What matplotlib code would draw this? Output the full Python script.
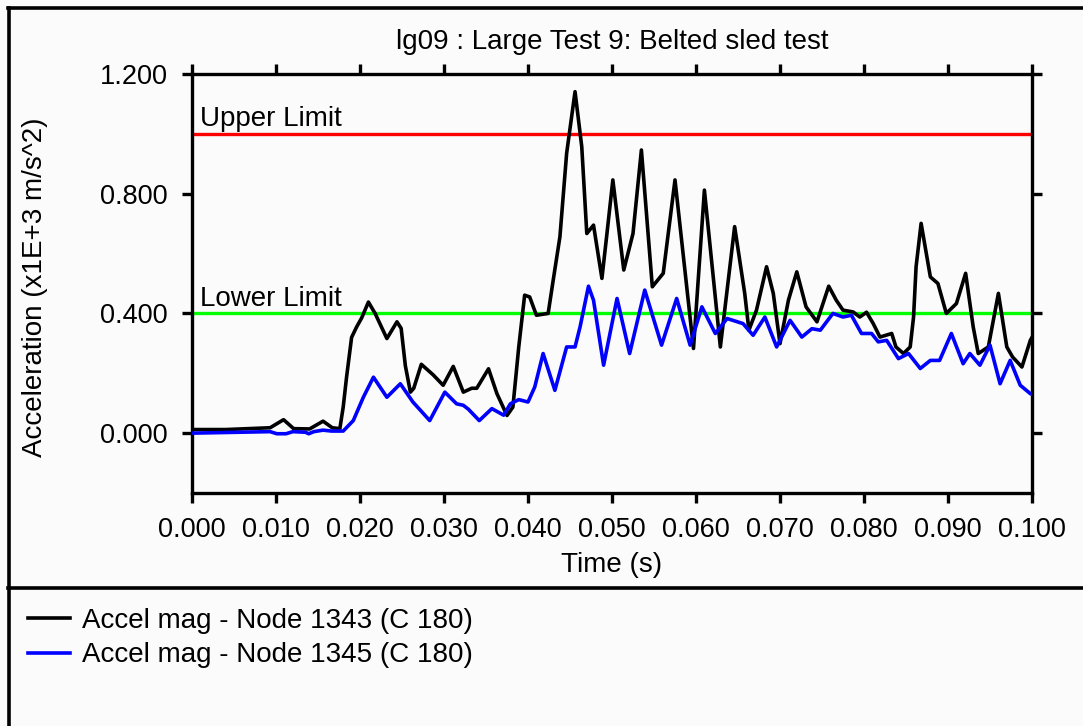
import matplotlib
matplotlib.use("Agg")
import matplotlib.pyplot as plt
from matplotlib.lines import Line2D
from matplotlib.ticker import FormatStrFormatter, MultipleLocator

plt.rcParams['font.family'] = ['Liberation Sans', 'DejaVu Sans']

# Acceleration magnitude, node 1343 (time in s, accel in 1E+3 m/s^2)
t_1343 = [0.0000, 0.0040, 0.0093, 0.0109, 0.0121, 0.0140, 0.0156, 0.0167, 0.0176,
          0.0180, 0.0184, 0.0190, 0.0196, 0.0202, 0.0210, 0.0218, 0.0232, 0.0244,
          0.0249, 0.0254, 0.0260, 0.0264, 0.0273, 0.0287, 0.0299, 0.0311, 0.0323,
          0.0333, 0.0339, 0.0353, 0.0363, 0.0375, 0.0382, 0.0389, 0.0396, 0.0402,
          0.0410, 0.0424, 0.0430, 0.0438, 0.0446, 0.0456, 0.0464, 0.0470, 0.0478,
          0.0488, 0.0494, 0.0501, 0.0514, 0.0525, 0.0535, 0.0548, 0.0561, 0.0575,
          0.0597, 0.0610, 0.0629, 0.0646, 0.0658, 0.0663, 0.0672, 0.0684, 0.0692,
          0.0700, 0.0710, 0.0720, 0.0731, 0.0744, 0.0758, 0.0767, 0.0775, 0.0787,
          0.0795, 0.0803, 0.0811, 0.0819, 0.0833, 0.0838, 0.0847, 0.0855, 0.0859,
          0.0862, 0.0868, 0.0879, 0.0888, 0.0898, 0.0910, 0.0921, 0.0930, 0.0936,
          0.0948, 0.0960, 0.0970, 0.0977, 0.0988, 0.0998, 0.1000]
a_1343 = [0.012, 0.012, 0.018, 0.045, 0.015, 0.014, 0.040, 0.018, 0.015,
          0.087, 0.187, 0.320, 0.355, 0.385, 0.438, 0.400, 0.316, 0.372,
          0.350, 0.225, 0.137, 0.150, 0.230, 0.195, 0.160, 0.223, 0.137,
          0.150, 0.150, 0.215, 0.132, 0.059, 0.087, 0.288, 0.461, 0.455,
          0.394, 0.400, 0.511, 0.656, 0.935, 1.141, 0.957, 0.667, 0.695,
          0.517, 0.667, 0.846, 0.545, 0.667, 0.946, 0.489, 0.534, 0.846,
          0.283, 0.812, 0.288, 0.690, 0.467, 0.344, 0.411, 0.556, 0.467,
          0.299, 0.444, 0.539, 0.422, 0.372, 0.491, 0.444, 0.411, 0.405,
          0.388, 0.404, 0.366, 0.321, 0.333, 0.288, 0.266, 0.288, 0.388,
          0.556, 0.701, 0.522, 0.500, 0.400, 0.433, 0.534, 0.355, 0.266,
          0.288, 0.467, 0.288, 0.254, 0.221, 0.310, 0.320]

# Acceleration magnitude, node 1345
t_1345 = [0.0000, 0.0093, 0.0101, 0.0112, 0.0120, 0.0135, 0.0139, 0.0145, 0.0156,
          0.0166, 0.0180, 0.0192, 0.0204, 0.0216, 0.0232, 0.0248, 0.0263, 0.0283,
          0.0301, 0.0315, 0.0323, 0.0329, 0.0342, 0.0357, 0.0371, 0.0379, 0.0389,
          0.0400, 0.0408, 0.0418, 0.0432, 0.0446, 0.0456, 0.0462, 0.0472, 0.0478,
          0.0490, 0.0506, 0.0521, 0.0539, 0.0559, 0.0577, 0.0593, 0.0607, 0.0623,
          0.0637, 0.0656, 0.0668, 0.0682, 0.0696, 0.0712, 0.0726, 0.0738, 0.0748,
          0.0763, 0.0775, 0.0785, 0.0797, 0.0809, 0.0817, 0.0827, 0.0841, 0.0853,
          0.0867, 0.0879, 0.0890, 0.0904, 0.0918, 0.0926, 0.0938, 0.0950, 0.0962,
          0.0974, 0.0986, 0.0998, 0.1000]
a_1345 = [0.000, 0.005, -0.002, -0.002, 0.005, 0.003, -0.002, 0.005, 0.010,
          0.007, 0.007, 0.042, 0.120, 0.187, 0.120, 0.165, 0.104, 0.042,
          0.137, 0.098, 0.093, 0.080, 0.042, 0.082, 0.060, 0.098, 0.112,
          0.104, 0.154, 0.266, 0.143, 0.288, 0.288, 0.355, 0.491, 0.444,
          0.227, 0.450, 0.266, 0.478, 0.294, 0.450, 0.294, 0.422, 0.333,
          0.383, 0.366, 0.327, 0.388, 0.288, 0.377, 0.321, 0.349, 0.344,
          0.400, 0.388, 0.394, 0.333, 0.333, 0.305, 0.310, 0.249, 0.266,
          0.216, 0.243, 0.243, 0.333, 0.232, 0.266, 0.227, 0.294, 0.165,
          0.243, 0.160, 0.132, 0.130]

upper_limit = 1.0
lower_limit = 0.4

title = "lg09 : Large Test 9: Belted sled test"
labels = ["Accel mag - Node 1343 (C 180)", "Accel mag - Node 1345 (C 180)"]

W, H = 1083, 726
bg = '#fbfbfb'

fig = plt.figure(figsize=(W / 100, H / 100), dpi=100, facecolor=bg)
ax = fig.add_axes([192 / W, 1 - 493 / H, 840 / W, 419 / H], facecolor=bg)

# limit lines with their captions
ax.axhline(upper_limit, color='#ff0000', lw=2.4, zorder=1)
ax.axhline(lower_limit, color='#00ff00', lw=2.4, zorder=1)
for val, txt in [(upper_limit, 'Upper Limit'), (lower_limit, 'Lower Limit')]:
    ax.annotate(txt, xy=(0, val), xycoords=('axes fraction', 'data'),
                xytext=(6, 5.5), textcoords='offset points', fontsize=20,
                va='baseline', ha='left')

l1, = ax.plot(t_1343, a_1343, color='black', lw=2.6, zorder=3)
l2, = ax.plot(t_1345, a_1345, color='#0000ff', lw=2.6, zorder=4)

ax.set_xlim(0, 0.1)
ax.set_ylim(-0.2, 1.2)
ax.xaxis.set_major_locator(MultipleLocator(0.01))
ax.yaxis.set_major_locator(MultipleLocator(0.4))
ax.xaxis.set_major_formatter(FormatStrFormatter('%.3f'))
ax.yaxis.set_major_formatter(FormatStrFormatter('%.3f'))
ax.tick_params(direction='out', length=7.5, width=2.4, labelsize=19.5, pad=10,
               top=True, right=True, labeltop=False, labelright=False)
for s in ax.spines.values():
    s.set_linewidth(2.4)

ax.set_title(title, fontsize=20, y=1.0, pad=18)
ax.set_xlabel('Time (s)', fontsize=20)
ax.xaxis.set_label_coords(0.5, -0.142)
ax.set_ylabel('Acceleration (x1E+3 m/s^2)', fontsize=20)
ax.yaxis.set_label_coords(-0.172, 0.49)

# window frame: top and left border, divider above the legend panel
for xs, ys in [((8 / W, 1), (1 - 8 / H, 1 - 8 / H)),
               ((9 / W, 9 / W), (0, 1 - 8 / H)),
               ((8 / W, 1), (1 - 588 / H, 1 - 588 / H))]:
    fig.add_artist(Line2D(xs, ys, transform=fig.transFigure, color='black', lw=2.6))

fig.legend([l1, l2], labels, loc='upper left', bbox_to_anchor=(28 / W, 1 - 608 / H),
           frameon=False, fontsize=20, handlelength=1.5, handletextpad=0.43,
           labelspacing=0.3, borderpad=0, borderaxespad=0)

fig.savefig('out.png', dpi=100, facecolor=bg)
